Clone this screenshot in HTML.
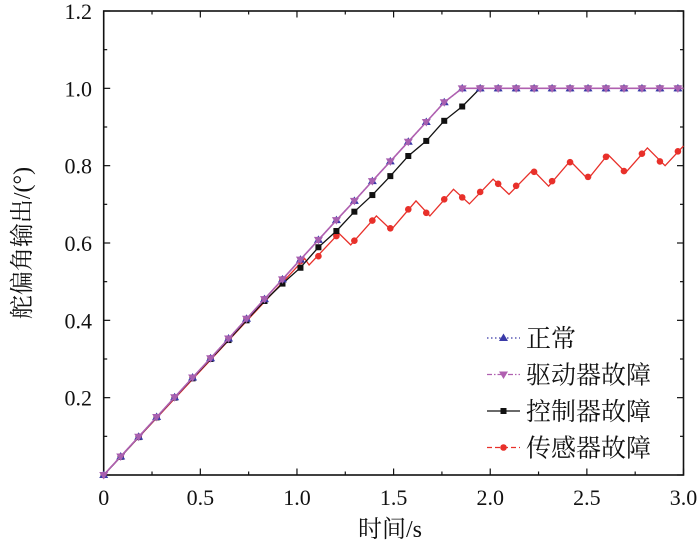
<!DOCTYPE html>
<html><head><meta charset="utf-8">
<style>
html,body{margin:0;padding:0;background:#fff;}
svg{display:block;}
text{font-family:"Liberation Serif","Noto Serif CJK SC",serif;fill:#111;}
</style></head>
<body>
<svg id="chart" width="700" height="547" viewBox="0 0 700 547" xmlns="http://www.w3.org/2000/svg">
<g id="axes"></g>
<g id="series"></g>
<g id="legend"></g>
</svg>
<script>
const markerTimes = [0,0.088,0.181,0.274,0.367,0.460,0.553,0.646,0.739,0.832,0.925,1.018,1.111,1.204,1.297,1.390,1.483,1.576,1.669,1.762,1.855,1.948,2.041,2.134,2.227,2.320,2.413,2.506,2.599,2.692,2.785,2.878,2.971];
const normalValues = [0,0.048,0.099,0.150,0.201,0.252,0.302,0.353,0.404,0.455,0.506,0.557,0.608,0.659,0.709,0.760,0.811,0.862,0.913,0.964,1,1,1,1,1,1,1,1,1,1,1,1,1];
const actuatorValues = [0,0.048,0.099,0.150,0.201,0.252,0.302,0.353,0.404,0.455,0.506,0.557,0.608,0.659,0.709,0.760,0.811,0.862,0.913,0.964,1,1,1,1,1,1,1,1,1,1,1,1,1];
const controllerValues = [0,0.047,0.098,0.149,0.200,0.250,0.300,0.349,0.400,0.450,0.495,0.536,0.589,0.631,0.681,0.724,0.773,0.825,0.864,0.916,0.953,1,1,1,1,1,1,1,1,1,1,1,1];
const sensorValues = [0,0.048,0.099,0.150,0.201,0.252,0.302,0.353,0.404,0.455,0.506,0.553,0.566,0.618,0.606,0.658,0.638,0.687,0.678,0.713,0.718,0.732,0.753,0.748,0.784,0.760,0.809,0.771,0.823,0.786,0.831,0.811,0.837];
const sensorLineTimes = [0,1.040,1.063,1.217,1.278,1.411,1.487,1.616,1.688,1.810,1.892,2.015,2.097,2.220,2.302,2.414,2.506,2.609,2.701,2.813,2.905,3.0];
const sensorLineValues = [0,0.560,0.543,0.625,0.595,0.670,0.634,0.709,0.670,0.739,0.701,0.765,0.726,0.789,0.747,0.812,0.765,0.829,0.782,0.846,0.800,0.851];
const xTicks = ["0","0.5","1.0","1.5","2.0","2.5","3.0"];
const yTicks = ["0.2","0.4","0.6","0.8","1.0","1.2"];

const NS="http://www.w3.org/2000/svg";
const L=103.7,R=683.5,T=11,B=475;
const xs=t=>L+(t/3)*(R-L);
const ys=v=>B-(v/1.2)*(B-T);
function mk(tag,attrs,parent){const e=document.createElementNS(NS,tag);for(const k in attrs)e.setAttribute(k,attrs[k]);parent.appendChild(e);return e;}
const axes=document.getElementById('axes'),series=document.getElementById('series'),legend=document.getElementById('legend');

const frame=mk('rect',{x:L,y:T,width:R-L,height:B-T,fill:'none',stroke:'#111','stroke-width':1.6},axes);


// x ticks
for(let i=0;i<=12;i++){const t=i*0.25,x=xs(t),len=i%2?3.5:6.5;
 mk('line',{x1:x,y1:B,x2:x,y2:B-len,stroke:'#111','stroke-width':1.2},axes);
 mk('line',{x1:x,y1:T,x2:x,y2:T+len,stroke:'#111','stroke-width':1.2},axes);}
xTicks.forEach((s,i)=>{const tx=mk('text',{x:xs(i*0.5),y:505,'font-size':22,'text-anchor':'middle'},axes);tx.textContent=s;
 
 });
for(let i=0;i<=12;i++){const v=i*0.1,y=ys(v),len=i%2?3.5:6.5;
 mk('line',{x1:L,y1:y,x2:L+len,y2:y,stroke:'#111','stroke-width':1.2},axes);
 mk('line',{x1:R,y1:y,x2:R-len,y2:y,stroke:'#111','stroke-width':1.2},axes);}
yTicks.forEach((s,i)=>{const tx=mk('text',{x:92,y:ys((i+1)*0.2)+8,'font-size':22,'text-anchor':'end'},axes);tx.textContent=s;
 
 });
const xt=mk('text',{x:390,y:537,'font-size':24,'text-anchor':'middle'},axes);xt.textContent='时间/s';


const yt=mk('text',{x:0,y:0,'font-size':24,'text-anchor':'middle',transform:'translate(30,243) rotate(-90)'},axes);yt.textContent='舵偏角输出/(°)';



function drawMarker(type,x,y,color,parent){
 if(type==='up')return mk('path',{d:`M${x},${y-4.5}L${x+4.5},${y+3}L${x-4.5},${y+3}Z`,fill:color},parent);
 if(type==='down')return mk('path',{d:`M${x},${y+4.5}L${x+4.5},${y-3}L${x-4.5},${y-3}Z`,fill:color},parent);
 if(type==='sq')return mk('rect',{x:x-3,y:y-3,width:6,height:6,fill:color},parent);
 return mk('circle',{cx:x,cy:y,r:3.3,fill:color},parent);}
function poly(ts,vs){return ts.map((t,i)=>xs(t).toFixed(1)+','+ys(vs[i]).toFixed(1)).join(' ');}

// sensor
const gS=mk('g',{},series);
mk('polyline',{points:poly(sensorLineTimes,sensorLineValues),fill:'none',stroke:'#e8302a','stroke-width':1.3},gS);
markerTimes.forEach((t,i)=>{const m=drawMarker('circ',xs(t),ys(sensorValues[i]),'#e8302a',gS);
 
 });
// controller
const gC=mk('g',{},series);
mk('polyline',{points:poly(markerTimes.concat([3]),controllerValues.concat([1])),fill:'none',stroke:'#111','stroke-width':1.3},gC);
markerTimes.forEach((t,i)=>{const m=drawMarker('sq',xs(t),ys(controllerValues[i]),'#111',gC);
 
 });
// normal
const gN=mk('g',{},series);
mk('polyline',{points:poly(markerTimes.concat([3]),normalValues.concat([1])),fill:'none',stroke:'#3a3aa8','stroke-width':1.3,'stroke-dasharray':'1.5,2'},gN);
markerTimes.forEach((t,i)=>{const m=drawMarker('up',xs(t),ys(normalValues[i]),'#3a3aa8',gN);
 
 });
// actuator
const gA=mk('g',{},series);
mk('polyline',{points:poly(markerTimes.concat([3]),actuatorValues.concat([1])),fill:'none',stroke:'#b060b0','stroke-width':1.6},gA);
markerTimes.forEach((t,i)=>{const m=drawMarker('down',xs(t),ys(actuatorValues[i]),'#a860b0',gA);
 
 });

// legend
const items=[['正常','#3a3aa8','up','1.5,2.5'],['驱动器故障','#b060b0','down','5,2,1.5,2'],['控制器故障','#111','sq',''],['传感器故障','#e8302a','circ','5,3']];
items.forEach((it,i)=>{const y=338+i*36.5;const g=mk('g',{},legend);
 
 
 const ln=mk('line',{x1:487,y1:y,x2:520,y2:y,stroke:it[1],'stroke-width':1.3},g);if(it[3])ln.setAttribute('stroke-dasharray',it[3]);
 drawMarker(it[2],503.5,y,it[1],g);
 const tx=mk('text',{x:526,y:y+9,'font-size':25},g);tx.textContent=it[0];});
</script>
</body></html>
